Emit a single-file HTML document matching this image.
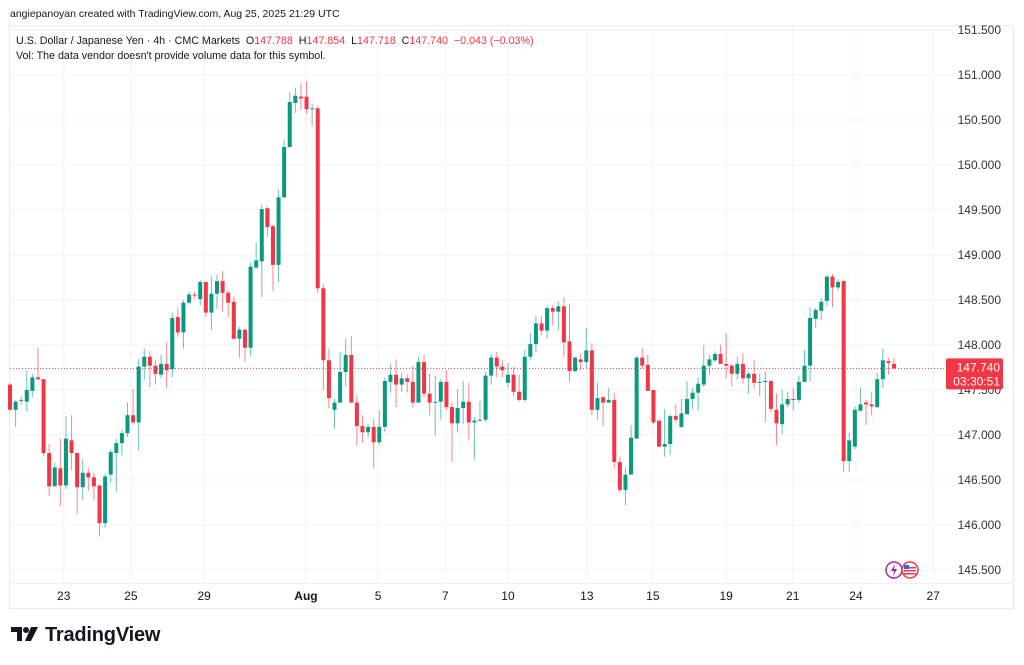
<!DOCTYPE html>
<html><head><meta charset="utf-8"><style>
html,body{margin:0;padding:0;background:#fff;}
body{width:1024px;height:665px;overflow:hidden;position:relative;font-family:"Liberation Sans",sans-serif;}
.t{position:absolute;white-space:nowrap;}
</style></head><body>
<div class="t" style="left:10px;top:8px;font-size:10.5px;color:#131722;">angiepanoyan created with TradingView.com, Aug 25, 2025 21:29 UTC</div>
<svg id="chart" width="1024" height="665" style="position:absolute;left:0;top:0;"></svg>
<div class="t" style="left:16px;top:35px;font-size:10.7px;color:#131722;">U.S. Dollar / Japanese Yen · 4h · CMC Markets&nbsp; O<span style="color:#f23645">147.788</span>&nbsp; H<span style="color:#f23645">147.854</span>&nbsp; L<span style="color:#f23645">147.718</span>&nbsp; C<span style="color:#f23645">147.740</span>&nbsp; <span style="color:#f23645">−0.043 (−0.03%)</span></div>
<div class="t" style="left:16px;top:50px;font-size:10.7px;color:#131722;">Vol: The data vendor doesn't provide volume data for this symbol.</div>
<div class="t" style="left:11px;top:624px;font-size:20px;font-weight:bold;color:#131722;letter-spacing:-0.2px;">
<svg width="30" height="18" style="vertical-align:-2px;margin-right:4px"><path d="M0 2h11v14h-5v-9h-6z" fill="#131722"/><circle cx="15" cy="5" r="3" fill="#131722"/><path d="M20 2h7l-7 14h-6z" fill="#131722"/></svg>TradingView</div>
<script>
const opens=[147.56,147.28,147.38,147.37,147.49,147.64,147.62,146.80,146.43,146.63,146.44,146.94,146.80,146.42,146.58,146.53,146.44,146.02,146.56,146.80,146.91,147.02,147.22,147.14,147.76,147.87,147.77,147.67,147.79,147.73,148.31,148.14,148.47,148.56,148.51,148.70,148.36,148.57,148.71,148.58,148.48,148.07,148.17,147.97,148.86,148.93,149.52,149.32,148.89,149.64,150.20,150.69,150.76,150.76,150.62,150.63,148.63,147.83,147.28,147.36,147.70,147.89,147.36,147.10,147.03,147.09,146.92,147.09,147.59,147.67,147.56,147.63,147.59,147.36,147.81,147.46,147.36,147.37,147.59,147.31,147.13,147.30,147.37,147.14,147.16,147.17,147.66,147.86,147.76,147.58,147.67,147.48,147.39,147.87,148.01,148.24,148.16,148.41,148.37,148.43,148.04,147.71,147.84,147.81,147.94,147.28,147.42,147.36,147.39,146.70,146.39,146.56,146.96,147.86,147.78,147.50,147.16,146.87,146.90,147.21,147.09,147.23,147.40,147.47,147.56,147.77,147.83,147.90,147.79,147.77,147.68,147.79,147.63,147.68,147.58,147.59,147.60,147.28,147.12,147.34,147.40,147.39,147.59,147.77,148.29,148.38,148.49,148.76,148.64,148.71,146.71,146.87,147.27,147.36,147.34,147.31,147.62,147.82,147.79];
const closes=[147.28,147.37,147.39,147.50,147.64,147.62,146.80,146.43,146.64,146.44,146.96,146.80,146.42,146.58,146.53,146.43,146.02,146.54,146.81,146.91,147.02,147.22,147.14,147.76,147.87,147.77,147.68,147.79,147.72,148.30,148.14,148.47,148.56,148.55,148.70,148.36,148.57,148.71,148.58,148.47,148.07,148.17,147.97,148.87,148.94,149.51,149.31,148.89,149.64,150.20,150.70,150.77,150.74,150.62,150.63,148.63,147.83,147.41,147.36,147.70,147.89,147.36,147.10,147.03,147.09,146.92,147.09,147.60,147.67,147.56,147.63,147.59,147.36,147.81,147.46,147.36,147.37,147.59,147.31,147.13,147.30,147.37,147.14,147.16,147.17,147.66,147.86,147.76,147.72,147.67,147.48,147.39,147.87,148.01,148.24,148.16,148.41,148.37,148.43,148.03,147.71,147.86,147.81,147.94,147.28,147.41,147.36,147.39,146.70,146.39,146.56,146.97,147.86,147.77,147.49,147.14,146.87,146.90,147.21,147.17,147.24,147.40,147.47,147.57,147.77,147.84,147.90,147.79,147.77,147.68,147.79,147.63,147.68,147.58,147.59,147.60,147.29,147.13,147.34,147.40,147.39,147.59,147.77,148.30,148.39,148.48,148.76,148.64,148.70,146.71,146.94,147.28,147.34,147.34,147.32,147.62,147.83,147.80,147.74];
const highs=[147.58,147.39,147.43,147.72,147.68,147.97,147.62,146.90,146.69,146.96,147.21,147.22,146.80,146.74,146.63,146.58,146.44,146.57,146.84,146.96,147.06,147.36,147.51,147.84,147.96,147.93,147.83,147.89,148.03,148.36,148.41,148.50,148.59,148.59,148.72,148.70,148.76,148.78,148.82,148.60,148.54,148.20,148.18,148.92,149.14,149.56,149.54,149.34,149.73,150.28,150.81,150.86,150.91,150.93,150.68,150.66,148.68,147.96,147.40,147.92,148.07,148.10,147.44,147.22,147.12,147.18,147.28,147.64,147.79,147.84,147.70,147.67,147.77,147.87,147.89,147.68,147.66,147.62,147.72,147.36,147.51,147.60,147.58,147.20,147.38,147.70,147.90,147.92,147.83,147.80,147.76,147.67,147.94,148.13,148.32,148.32,148.44,148.44,148.48,148.53,148.46,147.87,147.91,148.19,148.02,147.58,147.43,147.52,147.47,146.76,146.64,147.11,147.88,147.97,147.89,147.50,147.16,147.29,147.23,147.34,147.40,147.60,147.52,147.64,148.00,147.89,147.93,148.00,148.13,147.79,147.87,147.91,147.70,147.83,147.68,147.70,147.60,147.46,147.50,147.48,147.52,147.66,147.94,148.42,148.41,148.52,148.78,148.79,148.73,148.72,147.02,147.32,147.53,147.39,147.47,147.69,147.96,147.86,147.86];
const lows=[147.27,147.09,147.34,147.26,147.42,147.61,146.76,146.32,146.43,146.21,146.40,146.61,146.12,146.28,146.38,146.27,145.87,145.97,146.47,146.37,146.77,146.98,147.11,146.83,147.61,147.53,147.56,147.63,147.52,147.64,148.09,147.96,148.45,148.51,148.44,148.31,148.17,148.40,148.37,148.31,148.06,147.86,147.81,147.87,148.86,148.53,149.20,148.60,148.70,149.64,150.20,150.58,150.61,150.57,150.43,148.58,147.50,147.30,147.07,147.36,147.54,147.36,146.88,146.92,146.97,146.63,146.89,147.03,147.47,147.31,147.48,147.47,147.31,147.36,147.42,147.22,147.00,147.17,147.28,146.70,147.03,147.12,146.94,146.73,147.15,147.15,147.56,147.64,147.64,147.53,147.43,147.37,147.37,147.83,147.92,148.11,148.07,148.22,148.16,147.87,147.59,147.70,147.72,147.74,147.22,147.17,147.10,147.36,146.63,146.36,146.22,146.56,146.96,147.74,147.49,147.12,146.87,146.76,146.78,147.14,147.08,147.23,147.29,147.27,147.53,147.67,147.81,147.79,147.63,147.54,147.62,147.57,147.46,147.52,147.43,147.14,147.26,146.89,147.01,147.31,147.27,147.36,147.59,147.60,148.19,148.28,148.43,148.42,148.61,146.59,146.59,146.84,147.26,147.11,147.22,147.30,147.52,147.67,147.73];
const priceTicks=[145.5,146,146.5,147,147.5,148,148.5,149,149.5,150,150.5,151,151.5];
const dateLabels=["23","25","29","Aug","5","7","10","13","15","19","21","24","27"];
const dateIdx=[9.6,21.6,34.7,52.9,65.8,77.8,89,103.1,114.9,128,139.9,151.2,165];
const lastPrice=147.740;

const NS="http://www.w3.org/2000/svg";
const svg=document.getElementById('chart');
function y(p){return 570-(p-145.5)*90;}
function x(i){return 10+i*5.595;}
function mk(tag,attrs,parent){const e=document.createElementNS(NS,tag);for(const k in attrs)e.setAttribute(k,attrs[k]);(parent||svg).appendChild(e);return e;}
const frame=mk('rect',{x:9.5,y:25.5,width:1004,height:583,fill:'none',stroke:'#e8eaee'});


const sep=mk('line',{x1:9,x2:1014,y1:583.5,y2:583.5,stroke:'#eef0f3'});


priceTicks.forEach(p=>{
  const g=mk('line',{x1:10,x2:953,y1:y(p),y2:y(p),stroke:'#f0f1f4'});
  
  
  const t=mk('text',{x:1001,y:y(p)+4,'text-anchor':'end','font-size':12,fill:'#333','font-family':'Liberation Sans, sans-serif'});
  t.textContent=p.toFixed(3);
  
  
});
dateLabels.forEach((d,k)=>{
  const xx=x(dateIdx[k]);
  const g=mk('line',{x1:xx,x2:xx,y1:26,y2:583,stroke:'#f0f1f4'});
  
  
  const t=mk('text',{x:xx,y:600,'text-anchor':'middle','font-size':12,fill:'#131722','font-weight':d==='Aug'?'bold':'normal','font-family':'Liberation Sans, sans-serif'});
  t.textContent=d;
  
  
});
const lp=mk('line',{x1:10,x2:945,y1:y(lastPrice),y2:y(lastPrice),stroke:'#f23645','stroke-width':1,'stroke-dasharray':'1,2'});


opens.forEach((o,i)=>{
  const c=closes[i],up=c>=o,col=up?'#089981':'#f23645';
  const cx=x(i);
  const w=mk('line',{x1:cx,x2:cx,y1:y(highs[i]),y2:y(lows[i]),stroke:col,'stroke-opacity':0.6,'stroke-width':1});
  
  
  const top=y(Math.max(o,c)),bh=Math.max(1,Math.abs(y(o)-y(c)));
  const b=mk('rect',{x:cx-2,y:top,width:4,height:bh,fill:col});
  
  
});
const tag=mk('rect',{x:946,y:y(lastPrice)-10,width:57,height:31,rx:2,fill:'#f23645'});


const t1=mk('text',{x:1000,y:y(lastPrice)+3,'text-anchor':'end','font-size':12,fill:'#fff','font-family':'Liberation Sans, sans-serif'});
t1.textContent=lastPrice.toFixed(3);


const t2=mk('text',{x:1000,y:y(lastPrice)+17,'text-anchor':'end','font-size':12,fill:'#fff','font-family':'Liberation Sans, sans-serif'});
t2.textContent='03:30:51';


const ic1=mk('circle',{cx:894,cy:570,r:8,fill:'#fff',stroke:'#9c27b0','stroke-width':1.5});


const bolt=mk('path',{d:'M895 564l-4 7h3l-1 5 4-7h-3z',fill:'#9c27b0'});


const ic2=mk('circle',{cx:910,cy:570,r:8,fill:'#fff',stroke:'#f23645','stroke-width':1.5});


for(let k=0;k<3;k++){const s=mk('rect',{x:904,y:567+k*3,width:12,height:1.5,fill:'#f23645'});}
const cant=mk('rect',{x:904,y:565,width:5,height:4,fill:'#2962ff'});


</script>
</body></html>
